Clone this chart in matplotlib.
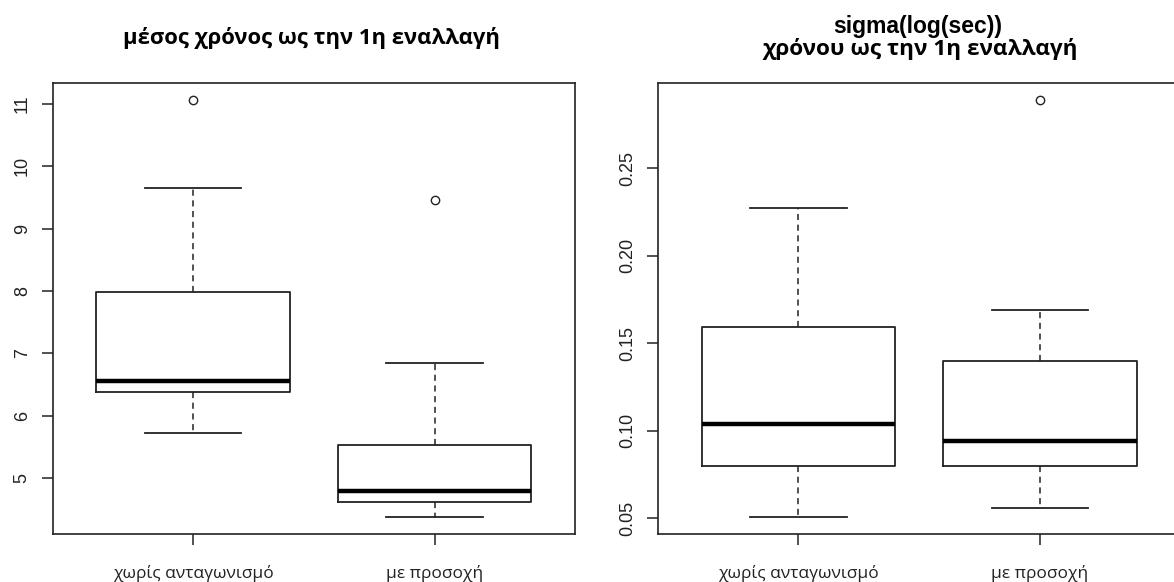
import matplotlib.pyplot as plt

plt.rcParams['font.family'] = ['Liberation Sans', 'DejaVu Sans']

# Data (five-number summaries + outliers)
groups = ['χωρίς ανταγωνισμό', 'με προσοχή']

mean_low = [5.72, 4.37]
mean_q1 = [6.38, 4.61]
mean_med = [6.55, 4.79]
mean_q3 = [7.99, 5.53]
mean_high = [9.66, 6.84]
mean_out = [[11.07], [9.46]]

sig_low = [0.0506, 0.056]
sig_q1 = [0.0797, 0.0797]
sig_med = [0.104, 0.0943]
sig_q3 = [0.1594, 0.140]
sig_high = [0.227, 0.1688]
sig_out = [[], [0.289]]

left_title = 'μέσος χρόνος ως την 1η εναλλαγή'
right_title_1 = 'sigma(log(sec))'
right_title_2 = 'χρόνου ως την 1η εναλλαγή'

W, H = 1174, 582
ink = '#222222'
greek = ['Open Sans', 'DejaVu Sans']


def make_stats(low, q1, med, q3, high, out):
    stats = []
    for i in range(len(med)):
        stats.append(dict(whislo=low[i], q1=q1[i], med=med[i], q3=q3[i],
                          whishi=high[i], fliers=out[i]))
    return stats


def draw(ax, stats, ticks, fmt):
    ax.bxp(stats, positions=[1, 2], widths=0.8, capwidths=0.4,
           boxprops=dict(color=ink, linewidth=1.3),
           medianprops=dict(color='black', linewidth=3.2, solid_capstyle='butt'),
           whiskerprops=dict(color=ink, linewidth=1.1, linestyle=(0, (4, 3))),
           capprops=dict(color=ink, linewidth=1.3),
           flierprops=dict(marker='o', markerfacecolor='none', markeredgecolor=ink,
                           markersize=6, markeredgewidth=1.0))
    # R-style 4% padding around the data range
    vals = [s['whislo'] for s in stats] + [s['whishi'] for s in stats]
    for s in stats:
        vals += list(s['fliers'])
    lo, hi = min(vals), max(vals)
    pad = 0.04 * (hi - lo)
    ax.set_ylim(lo - pad, hi + pad)
    ax.set_xlim(0.42, 2.58)
    ax.set_yticks(ticks)
    ax.set_yticklabels([fmt % t for t in ticks], rotation=90, va='center',
                       fontsize=13)
    ax.set_xticks([1, 2])
    ax.set_xticklabels(groups, family=greek, fontsize=12.5)
    ax.tick_params(axis='both', direction='out', length=8, width=1.1,
                   color=ink, labelcolor=ink)
    ax.tick_params(axis='y', pad=8)
    ax.tick_params(axis='x', pad=14)
    for sp in ax.spines.values():
        sp.set_color(ink)
        sp.set_linewidth(1.2)


fig = plt.figure(figsize=(W / 100, H / 100), dpi=100)

# axes placement in pixels: left, bottom-from-top, right
ax1 = fig.add_axes([53 / W, 1 - 534 / H, (575 - 53) / W, (534 - 83) / H])
ax2 = fig.add_axes([658 / W, 1 - 534 / H, (1180 - 658) / W, (534 - 83) / H])

draw(ax1, make_stats(mean_low, mean_q1, mean_med, mean_q3, mean_high, mean_out),
     [5, 6, 7, 8, 9, 10, 11], '%d')
draw(ax2, make_stats(sig_low, sig_q1, sig_med, sig_q3, sig_high, sig_out),
     [0.05, 0.10, 0.15, 0.20, 0.25], '%.2f')

fig.text(311 / W, 1 - 38 / H, left_title, ha='center', va='center',
         family=greek, fontsize=15.8, fontweight='bold', color='black')
fig.text(918 / W, 1 - 26 / H, right_title_1, ha='center', va='center',
         fontsize=16.5, fontweight='bold', color='black')
fig.text(920 / W, 1 - 49 / H, right_title_2, ha='center', va='center',
         family=greek, fontsize=16.2, fontweight='bold', color='black')

fig.savefig('out.png', dpi=100)
